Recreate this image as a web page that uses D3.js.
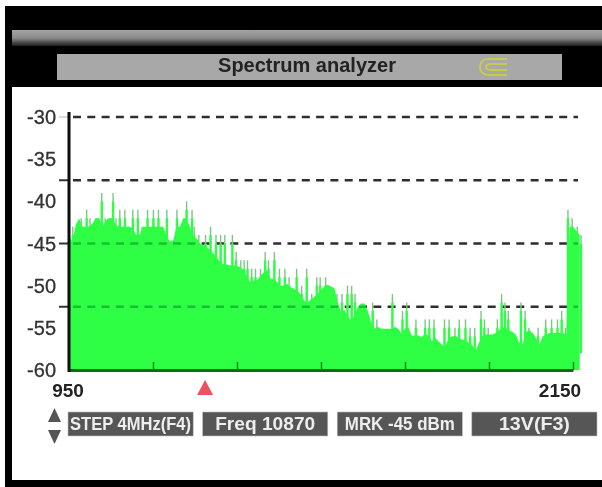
<!DOCTYPE html>
<html>
<head>
<meta charset="utf-8">
<script src="https://cdn.jsdelivr.net/npm/d3@7"></script>
<style>
  html, body { margin: 0; background: #fff; }
  svg { display: block; }
  text { font-family: "Liberation Sans", Arial, sans-serif; }
</style>
</head>
<body>
<svg id="chart" width="602" height="487"></svg>
<script>
const yTicks = [-30, -35, -40, -45, -50, -55, -60]
const dashLevels = [-30, -37.5, -45, -52.5]
const xTicks = [1150, 1350, 1550, 1750, 1950, 2150]
const xLabels = [950, 2150]
const markerFreq = 1274
const buttons = ['STEP 4MHz(F4)', 'Freq 10870', 'MRK -45 dBm', '13V(F3)']

// solid part of the trace, one value every 8 MHz from 950
const bodyDb = [
  -44.2, -44.8, -42.8, -42, -43, -43, -43, -42.6, -42, -42, -43, -42.2, -42, -42, -42.8, -43, -43, -43, -43,
  -43.2, -44, -44, -43, -43, -43, -43, -43, -43, -43, -44, -44.8, -44.6, -43, -43, -42, -42, -43, -44.2,
  -44.4, -45, -45.2, -45.4, -45.8, -46.2, -46.7, -47.2, -47.5, -47.5, -47.6, -47.6, -47.7, -47.8, -48.3, -49, -49.6,
  -49.4, -49.4, -48.8, -48.4, -48.2, -49.2, -49.2, -49.6, -50, -50, -49.8, -50.2, -50.4, -50.6, -51, -51.8, -52, -51.6, -51.3,
  -51, -50.5, -50.1, -49.9, -50.1, -50.3, -52.1, -53.1, -52.9, -53.7, -54.1, -53.5, -52.5, -52.1, -52.1, -53.1, -54.5, -55.1, -54.9,
  -55.1, -55.1, -55.1, -55.1, -54.9, -55.1, -55.7, -55.1, -54.9, -55.9, -55.9, -55.9, -56.1, -55.7, -55.9, -56.6, -56.2, -56.6, -57, -57.2,
  -56.2, -56, -56, -56.2, -56.4, -56.4, -56.8, -57, -57.8, -56.8, -56, -55.8, -55.8, -55.8, -55.6, -55.3, -55, -55, -55.3, -55.5,
  -55.8, -56.8, -57, -55.5, -55.3, -55.6, -56.2, -57, -56, -55.8, -55.6, -55.6, -55.6, -55.6, -55.6, -55.8,
  -43, -43, -43.5, -44
]
// thin spikes standing above the solid part
const peakFreq = [
  959, 979, 992, 1000, 1013, 1020, 1028, 1036, 1046, 1055, 1062, 1071, 1083, 1102, 1114, 1124, 1137, 1151, 1163, 1183, 1207, 1217, 1230, 1243,
  1248, 1259, 1275, 1287, 1300, 1311, 1321, 1339, 1348, 1359, 1367, 1375, 1385, 1394, 1406, 1417, 1425, 1439, 1451, 1464, 1474, 1492, 1504, 1516, 1528,
  1540, 1548, 1561, 1588, 1600, 1613, 1623, 1631, 1673, 1683, 1720, 1744, 1754, 1776, 1798, 1808, 1819, 1844,
  1855, 1869, 1879, 1894, 1905, 1916, 1931, 1939, 1948, 1970, 1980, 1988, 1996, 2026, 2036, 2045, 2067, 2085, 2099, 2113, 2123, 2132,
  2138, 2148, 2160, 2169
]
const peakDb = [
  -43, -42, -41, -42, -42, -42, -39, -42, -42, -39, -42, -41, -41, -41, -41, -43, -41, -41, -41, -41, -41, -43, -40, -41,
  -43, -44, -44, -43, -44, -44, -44, -44, -46, -47, -47, -47, -48, -48, -48, -46, -47, -46, -48, -48, -49, -48, -50, -48, -51,
  -49, -49, -49, -51, -51, -50, -50, -51, -52, -54, -51, -53, -52, -54, -54, -54, -54, -54,
  -54, -55, -54, -54, -55, -55, -53, -54, -55, -54, -51, -52, -53, -52, -53, -55, -55, -54, -54, -54, -53, -55,
  -41, -42, -43, -44
]

const svg = d3.select('#chart')
const defs = svg.append('defs')
const root = svg.append('g').attr('filter', 'url(#soft)')

defs.append('filter').attr('id', 'soft')
  .append('feGaussianBlur').attr('stdDeviation', 0.6)

const grad = defs.append('linearGradient')
  .attr('id', 'band').attr('x1', 0).attr('x2', 0).attr('y1', 0).attr('y2', 1)
grad.append('stop').attr('offset', 0).attr('stop-color', '#a2a5a2')
grad.append('stop').attr('offset', 0.5).attr('stop-color', '#8a8a8a')
grad.append('stop').attr('offset', 1).attr('stop-color', '#1c1c1c')

// screen frame
root.append('rect').attr('x', 5).attr('y', 6).attr('width', 597).attr('height', 481).attr('fill', '#050505')
root.append('rect').attr('x', 12).attr('y', 30).attr('width', 590).attr('height', 16).attr('fill', 'url(#band)')
root.append('rect').attr('x', 12).attr('y', 87).attr('width', 590).attr('height', 393).attr('fill', '#fff')

// title bar
root.append('rect').attr('x', 57).attr('y', 54).attr('width', 505).attr('height', 26).attr('fill', '#a8a8a8')
root.append('text').attr('x', 307).attr('y', 72).attr('text-anchor', 'middle')
  .attr('font-size', 20).attr('font-weight', 'bold').attr('fill', '#222').text('Spectrum analyzer')
root.append('path').attr('d', 'M507,59 H488 Q480,60 480,67 Q480,74 488,75 H507 M507,64 H491 Q486,64 486,67 Q486,70 491,70 H507')
  .attr('fill', 'none').attr('stroke', '#c9c94e').attr('stroke-width', 2)

const x = d3.scaleLinear().domain([950, 2150]).range([69, 573])
const y = d3.scaleLinear().domain([-60, -30]).range([370, 117])

const bodyPts = bodyDb.map((d, i) => [950 + i * 8, d])

const area = d3.area()
  .x((d) => x(d[0]))
  .y0(y(-60))
  .y1((d) => y(d[1]))

defs.append('clipPath').attr('id', 'inBody')
  .append('path').datum(bodyPts).attr('d', area)

const drawLevels = (layer, colour, cls) =>
  layer.selectAll(`line.${cls}`).data(dashLevels).join('line')
    .attr('class', cls)
    .attr('x1', x(950) + 4).attr('x2', 578)
    .attr('y1', (d) => y(d)).attr('y2', (d) => y(d))
    .attr('stroke', colour).attr('stroke-width', 2.4).attr('stroke-dasharray', '8 6.3')

drawLevels(root, '#2e2e2e', 'level')
root.selectAll('line.stub').data(dashLevels).join('line')
  .attr('class', 'stub')
  .attr('x1', 59).attr('x2', x(950))
  .attr('y1', (d) => y(d)).attr('y2', (d) => y(d))
  .attr('stroke', (d) => (d === -30 ? '#ddd' : '#333')).attr('stroke-width', 2)

// pale tip of each spike, then a brighter, wider root one dB lower
root.selectAll('line.peak').data(peakFreq).join('line')
  .attr('class', 'peak')
  .attr('x1', (d) => x(d)).attr('x2', (d) => x(d))
  .attr('y1', (d, i) => y(peakDb[i])).attr('y2', y(-58))
  .attr('stroke', '#78c884').attr('stroke-width', 1.4)
root.selectAll('line.peakRoot').data(peakFreq).join('line')
  .attr('class', 'peakRoot')
  .attr('x1', (d) => x(d)).attr('x2', (d) => x(d))
  .attr('y1', (d, i) => y(peakDb[i] - 1)).attr('y2', y(-58))
  .attr('stroke', '#2dff44').attr('stroke-width', 2.4)

root.append('path').datum(bodyPts).attr('d', area).attr('fill', '#2dff44')

// where the levels cross the trace they turn dark green
const inside = root.append('g').attr('clip-path', 'url(#inBody)')
drawLevels(inside, '#18c030', 'levelIn')

// axes
const xAxis = d3.axisBottom(x).tickValues(xTicks).tickSize(-8).tickFormat('').tickSizeOuter(0)
const xG = root.append('g').attr('transform', `translate(0,${y(-60)})`).call(xAxis)
xG.select('.domain').attr('stroke', '#0a6a12').attr('stroke-width', 3)
xG.selectAll('.tick line').attr('stroke', '#0a8a18').attr('stroke-width', 1.5)

root.append('line').attr('x1', x(950)).attr('x2', x(950)).attr('y1', 112).attr('y2', 372)
  .attr('stroke', '#080808').attr('stroke-width', 3)

root.selectAll('text.ylab').data(yTicks).join('text')
  .attr('class', 'ylab')
  .attr('x', 56).attr('y', (d) => y(d) + 7)
  .attr('text-anchor', 'end').attr('font-size', 20).attr('fill', '#333')
  .attr('stroke', '#333').attr('stroke-width', 0.3)
  .text((d) => d)

root.selectAll('text.xlab').data(xLabels).join('text')
  .attr('class', 'xlab')
  .attr('x', (d) => (d === 950 ? 68 : 560)).attr('y', 397)
  .attr('text-anchor', 'middle').attr('font-size', 19).attr('font-weight', 'bold').attr('fill', '#222')
  .text((d) => d)

// marker
root.append('path').attr('fill', '#f0505f')
  .attr('d', d3.line()([[x(markerFreq) - 8, 395], [x(markerFreq), 380], [x(markerFreq) + 8, 395]]))

// up / down arrows and soft key row
root.append('path').attr('d', 'M48,422 L54.5,408 L61,422 Z').attr('fill', '#555')
root.append('path').attr('d', 'M48,430 L54.5,444 L61,430 Z').attr('fill', '#555')

const btnX = d3.scaleBand().domain(buttons).range([68, 597]).paddingInner(0.07)
const keys = root.selectAll('g.key').data(buttons).join('g').attr('class', 'key')
keys.append('rect')
  .attr('x', (d) => btnX(d)).attr('y', 412).attr('width', btnX.bandwidth()).attr('height', 24)
  .attr('fill', '#565656').attr('stroke', '#bbb').attr('stroke-width', 0.6)
keys.append('text')
  .attr('x', (d) => btnX(d) + btnX.bandwidth() / 2).attr('y', 430)
  .attr('text-anchor', 'middle').attr('font-size', 18.5).attr('font-weight', 'bold').attr('fill', '#eee')
  .attr('textLength', (d, i) => [121, 100, 110, 71][i]).attr('lengthAdjust', 'spacingAndGlyphs')
  .text((d) => d)
</script>
</body>
</html>
